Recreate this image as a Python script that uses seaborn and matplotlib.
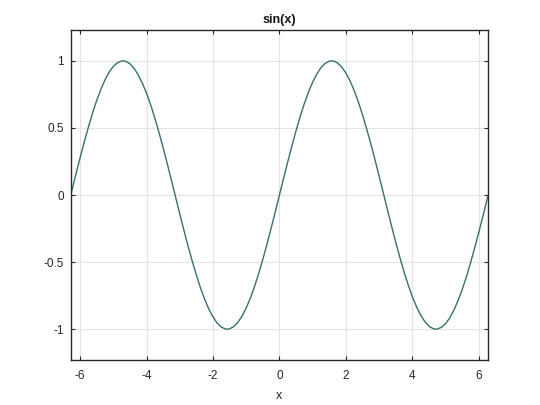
import numpy as np
import pandas as pd
import seaborn as sns
import matplotlib.pyplot as plt
from matplotlib.ticker import FuncFormatter

# values
x_vals = [-6.283, -6.25, -6.125, -6.0, -5.875, -5.75, -5.625, -5.5, -5.375, -5.25,
          -5.125, -5.0, -4.875, -4.75, -4.712, -4.625, -4.5, -4.375, -4.25, -4.125,
          -4.0, -3.875, -3.75, -3.625, -3.5, -3.375, -3.25, -3.125, -3.0, -2.875,
          -2.75, -2.625, -2.5, -2.375, -2.25, -2.125, -2.0, -1.875, -1.75, -1.625,
          -1.571, -1.5, -1.375, -1.25, -1.125, -1.0, -0.875, -0.75, -0.625, -0.5,
          -0.375, -0.25, -0.125, 0.0,
          0.125, 0.25, 0.375, 0.5, 0.625, 0.75, 0.875, 1.0, 1.125, 1.25,
          1.375, 1.5, 1.571, 1.625, 1.75, 1.875, 2.0, 2.125, 2.25, 2.375,
          2.5, 2.625, 2.75, 2.875, 3.0, 3.125, 3.25, 3.375, 3.5, 3.625,
          3.75, 3.875, 4.0, 4.125, 4.25, 4.375, 4.5, 4.625, 4.712, 4.75,
          4.875, 5.0, 5.125, 5.25, 5.375, 5.5, 5.625, 5.75, 5.875, 6.0,
          6.125, 6.25, 6.283]
y_vals = [0.0, 0.033, 0.158, 0.279, 0.397, 0.508, 0.612, 0.706, 0.788, 0.859,
          0.917, 0.959, 0.986, 0.999, 1.0, 0.996, 0.978, 0.943, 0.895, 0.832,
          0.757, 0.670, 0.572, 0.465, 0.351, 0.231, 0.108, -0.017, -0.141, -0.264,
          -0.382, -0.493, -0.598, -0.694, -0.778, -0.851, -0.909, -0.954, -0.984, -0.999,
          -1.0, -0.997, -0.981, -0.949, -0.902, -0.841, -0.768, -0.682, -0.585, -0.479,
          -0.366, -0.247, -0.125, 0.0,
          0.125, 0.247, 0.366, 0.479, 0.585, 0.682, 0.768, 0.841, 0.902, 0.949,
          0.981, 0.997, 1.0, 0.999, 0.984, 0.954, 0.909, 0.851, 0.778, 0.694,
          0.598, 0.493, 0.382, 0.264, 0.141, 0.017, -0.108, -0.231, -0.351, -0.465,
          -0.572, -0.670, -0.757, -0.832, -0.895, -0.943, -0.978, -0.996, -1.0, -0.999,
          -0.986, -0.959, -0.917, -0.859, -0.788, -0.706, -0.612, -0.508, -0.397, -0.279,
          -0.158, -0.033, 0.0]
x_ticks = [-6, -4, -2, 0, 2, 4, 6]
y_ticks = [-1, -0.5, 0, 0.5, 1]

df = pd.DataFrame({"x": x_vals, "y": y_vals})

sns.set_theme(style="whitegrid")
plt.rcParams['font.family'] = ['Liberation Sans', 'DejaVu Sans']

fig = plt.figure(figsize=(5.4, 4.05), dpi=100)
ax = fig.add_axes([0.131, 0.111, 0.773, 0.815])

sns.lineplot(data=df, x="x", y="y", ax=ax, color="#36706f", linewidth=1.0,
             sort=False, estimator=None)

ax.set_xlim(-2 * np.pi, 2 * np.pi)
ax.set_ylim(-1.23, 1.23)
ax.set_xticks(x_ticks)
ax.set_yticks(y_ticks)
ax.yaxis.set_major_formatter(FuncFormatter(lambda v, p: f"{v:g}"))
ax.xaxis.set_major_formatter(FuncFormatter(lambda v, p: f"{v:g}"))

ax.grid(True, color="#e3e3e3", linewidth=0.8)
ax.set_facecolor("white")
for s in ax.spines.values():
    s.set_visible(True)
    s.set_color("#262626")
    s.set_linewidth(1.0)

ax.tick_params(axis="both", direction="in", length=3, width=0.8, color="#262626",
               labelsize=8.5, labelcolor="#262626", top=True, right=True,
               bottom=True, left=True)
ax.tick_params(axis="x", pad=7)
ax.tick_params(axis="y", pad=5)

ax.set_title("sin(x)", fontsize=9, fontweight="bold", color="#111111", pad=5)
ax.set_xlabel("x", fontsize=9, color="#262626", labelpad=6)
ax.set_ylabel("")

fig.savefig("out.png", dpi=100, facecolor="white")
